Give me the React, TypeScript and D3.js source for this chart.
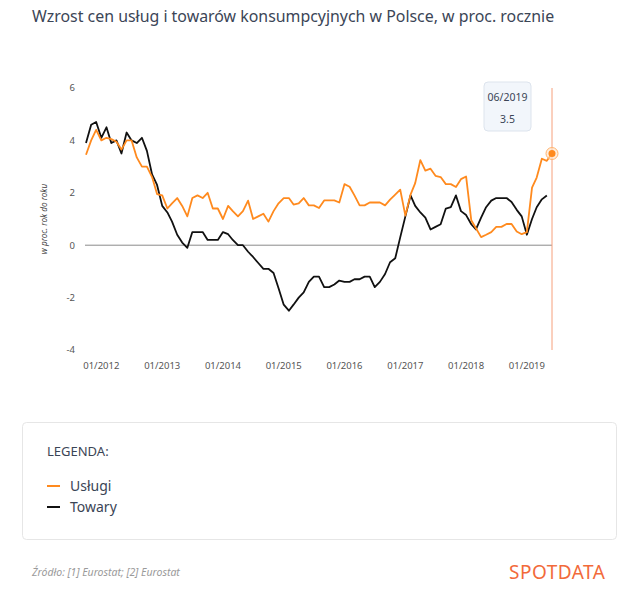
import React from "react";
import * as d3 from "d3";

// miesiące 10/2011 – 06/2019
const firstMonth = new Date(2011, 9, 1);
const lastMonth = new Date(2019, 5, 1);
const months = d3.timeMonth.range(firstMonth, d3.timeMonth.offset(lastMonth, 1));

const uslugi = [
  3.45, 4.0, 4.4, 4.0, 4.1, 4.05, 3.95, 3.65, 4.0, 4.0,
  3.35, 3.0, 3.0, 2.6, 1.95, 1.9, 1.4, 1.6, 1.8, 1.5,
  1.1, 1.8, 1.9, 1.8, 2.0, 1.4, 1.4, 1.0, 1.5, 1.3,
  1.1, 1.3, 1.7, 1.0, 1.1, 1.2, 0.9, 1.3, 1.6, 1.8,
  1.8, 1.55, 1.6, 1.8, 1.52, 1.52, 1.42, 1.71, 1.71, 1.71,
  1.63, 2.33, 2.23, 1.9, 1.52, 1.52, 1.63, 1.63, 1.63, 1.52,
  1.74, 1.93, 2.12, 1.13, 1.93, 2.37, 3.25, 2.85, 2.92, 2.65,
  2.6, 2.33, 2.33, 2.22, 2.52, 2.62, 0.95, 0.65, 0.31, 0.4,
  0.5, 0.7, 0.7, 0.81, 0.81, 0.52, 0.42, 0.5, 2.2, 2.58,
  3.3, 3.22, 3.5,
];

const towary = [
  3.9, 4.6, 4.7, 4.1, 4.5, 3.9, 4.0, 3.5, 4.3, 4.0,
  3.9, 4.1, 3.6, 2.7, 2.3, 1.5, 1.25, 0.9, 0.4, 0.1,
  -0.1, 0.5, 0.5, 0.5, 0.2, 0.2, 0.2, 0.5, 0.42, 0.2,
  0.0, 0.0, -0.25, -0.45, -0.68, -0.9, -0.9, -1.06, -1.64, -2.27,
  -2.5, -2.27, -2.0, -1.8, -1.4, -1.2, -1.2, -1.6, -1.6, -1.5,
  -1.35, -1.4, -1.4, -1.3, -1.3, -1.2, -1.2, -1.6, -1.4, -1.1,
  -0.65, -0.5, 0.3, 1.1, 1.9, 1.5, 1.25, 1.05, 0.6, 0.7,
  0.8, 1.4, 1.45, 1.9, 1.3, 1.15, 0.8, 0.6, 1.05, 1.45,
  1.7, 1.8, 1.8, 1.8, 1.65, 1.35, 1.1, 0.4, 1.0, 1.45,
  1.75, 1.9,
];

const yTicks = [6, 4, 2, 0, -2, -4];
const xTickYears = [2012, 2013, 2014, 2015, 2016, 2017, 2018, 2019];

const legendItems = [
  { name: "Usługi", color: "#ff8a1e" },
  { name: "Towary", color: "#111111" },
];

const FONT = "'Noto Sans', 'Open Sans', sans-serif";
const ORANGE = "#ff8a1e";

export default function App() {
  const width = 640;
  const height = 599;
  const margin = { left: 86, right: 88, top: 88, bottom: 249 };

  const x = d3
    .scaleTime()
    .domain([firstMonth, lastMonth])
    .range([margin.left, width - margin.right]);

  const y = d3
    .scaleLinear()
    .domain([-4, 6])
    .range([height - margin.bottom, margin.top]);

  const line = d3
    .line<number>()
    .x((_, i) => x(months[i]))
    .y((d) => y(d));

  const fmt = d3.timeFormat("%m/%Y");
  const lastIdx = uslugi.length - 1;
  const hx = x(months[lastIdx]);
  const hy = y(uslugi[lastIdx]);

  return (
    <div style={{ position: "absolute", left: 0, top: 0 }}>
      <svg width={width} height={height} style={{ display: "block", fontFamily: FONT }}>
        <rect width={width} height={height} fill="#fff" />
        <text x={32} y={22} fontSize={15.9} fill="#3b4556">
          Wzrost cen usług i towarów konsumpcyjnych w Polsce, w proc. rocznie
        </text>

        {/* oś Y */}
        <text
          transform={`translate(47,${y(1)}) rotate(-90)`}
          fontSize={8.2}
          fontStyle="italic"
          fill="#444"
          textAnchor="middle"
        >
          w proc. rok do roku
        </text>
        {yTicks.map((t) => (
          <text key={t} x={75} y={y(t)} dy="0.35em" fontSize={9.5} fill="#555" textAnchor="end">
            {t}
          </text>
        ))}

        {/* oś X */}
        {xTickYears.map((yr) => {
          const d = new Date(yr, 0, 1);
          return (
            <text key={yr} x={x(d)} y={369} fontSize={9.5} fill="#555" textAnchor="middle">
              {fmt(d)}
            </text>
          );
        })}

        <line x1={x(firstMonth) - 1} x2={x(lastMonth)} y1={y(0)} y2={y(0)} stroke="#8a8a8a" strokeWidth={1} />

        <line x1={hx} x2={hx} y1={y(6)} y2={y(-4)} stroke="#f6a07c" strokeWidth={1} />

        <path d={line(towary) ?? ""} fill="none" stroke="#111" strokeWidth={1.8} strokeLinejoin="round" />
        <path d={line(uslugi) ?? ""} fill="none" stroke={ORANGE} strokeWidth={1.8} strokeLinejoin="round" />

        <circle cx={hx} cy={hy} r={6} fill="#ffe2c6" fillOpacity={0.6} stroke="#ffb470" strokeWidth={1} />
        <circle cx={hx} cy={hy} r={3.5} fill={ORANGE} />

        {/* tooltip */}
        <g transform="translate(484,82)">
          <rect width={47} height={49} rx={4} fill="#f2f6fb" stroke="#dde4ed" />
          <text x={23.5} y={19} fontSize={10.5} fill="#3b4556" textAnchor="middle">
            {fmt(months[lastIdx])}
          </text>
          <text x={23.5} y={41} fontSize={10.5} fill="#3b4556" textAnchor="middle">
            {uslugi[lastIdx]}
          </text>
        </g>

        {/* legenda */}
        <rect x={22.5} y={422.5} width={594} height={117} rx={4} fill="#fff" stroke="#e6e6e6" />
        <text x={47} y={456} fontSize={13} fill="#3b4556">
          LEGENDA:
        </text>
        {legendItems.map((it, i) => (
          <g key={it.name} transform={`translate(47,${486 + i * 21})`}>
            <line x1={0} x2={13} y1={0} y2={0} stroke={it.color} strokeWidth={2} />
            <text x={23} y={0} dy="0.35em" fontSize={14} fill="#3b4556">
              {it.name}
            </text>
          </g>
        ))}

        {/* stopka */}
        <text x={32} y={576} fontSize={10.5} fontStyle="italic" fill="#9a9a9a">
          Źródło: [1] Eurostat; [2] Eurostat
        </text>
        <text x={509} y={579} fontSize={19} fill="#f26a3a" letterSpacing={0.5}>
          SPOTDATA
        </text>
      </svg>
    </div>
  );
}
